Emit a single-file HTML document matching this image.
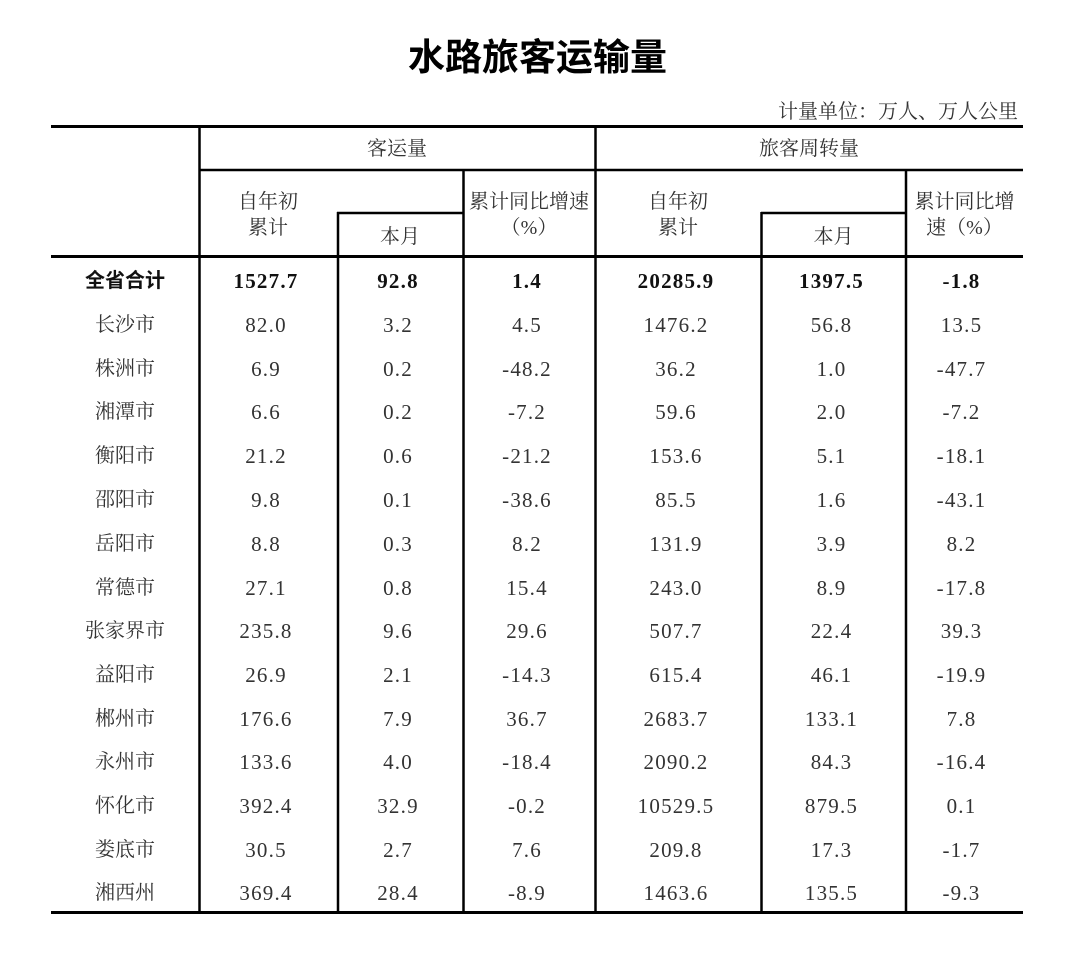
<!DOCTYPE html>
<html>
<head>
<meta charset="utf-8">
<style>
html,body{margin:0;padding:0;background:#fff;}
body{width:1080px;height:959px;position:relative;overflow:hidden;}
.t{position:absolute;white-space:nowrap;text-align:center;line-height:20px;height:20px;}
.cn{font-family:"Liberation Serif","Noto Serif CJK SC",serif;font-size:20px;color:#333;}
.num{font-family:"Liberation Serif","Noto Serif CJK SC",serif;font-size:21px;letter-spacing:1.2px;color:#333;}
.b{font-weight:bold;color:#111;}
.bs{font-family:"Liberation Sans","Noto Sans CJK SC",sans-serif;font-weight:bold;font-size:20px;color:#111;}
.title{position:absolute;left:380px;width:315px;top:38px;text-align:center;font-family:"Liberation Sans","Noto Sans CJK SC",sans-serif;font-weight:bold;font-size:37px;line-height:40px;color:#000;}
.unit{position:absolute;right:62px;top:102px;font-family:"Liberation Serif","Noto Serif CJK SC",serif;font-size:20px;line-height:20px;color:#333;}
svg{position:absolute;left:0;top:0;}
</style>
</head>
<body>
<div class="title">水路旅客运输量</div>
<div class="unit">计量单位：万人、万人公里</div>

<svg width="1080" height="959" xmlns="http://www.w3.org/2000/svg">
  <g stroke="#000" fill="none">
    <line x1="51" y1="126.5" x2="1023" y2="126.5" stroke-width="3"/>
    <line x1="199" y1="170" x2="1023" y2="170" stroke-width="2.5"/>
    <line x1="337" y1="213" x2="463" y2="213" stroke-width="2.5"/>
    <line x1="761" y1="213" x2="906" y2="213" stroke-width="2.5"/>
    <line x1="51" y1="256.5" x2="1023" y2="256.5" stroke-width="3"/>
    <line x1="51" y1="912.5" x2="1023" y2="912.5" stroke-width="3"/>
    <line x1="199.5" y1="126" x2="199.5" y2="913" stroke-width="2.5"/>
    <line x1="338" y1="212" x2="338" y2="913" stroke-width="2.5"/>
    <line x1="463.5" y1="170" x2="463.5" y2="913" stroke-width="2.5"/>
    <line x1="595.5" y1="126" x2="595.5" y2="913" stroke-width="2.5"/>
    <line x1="761.5" y1="212" x2="761.5" y2="913" stroke-width="2.5"/>
    <line x1="906" y1="170" x2="906" y2="913" stroke-width="2.5"/>
  </g>
</svg>

<!-- header -->
<div class="t cn" style="left:199px;width:396px;top:139px;">客运量</div>
<div class="t cn" style="left:595px;width:428px;top:139px;">旅客周转量</div>

<div class="t cn" style="left:199px;width:138px;top:192px;">自年初</div>
<div class="t cn" style="left:199px;width:138px;top:218px;">累计</div>
<div class="t cn" style="left:337px;width:126px;top:227px;">本月</div>
<div class="t cn" style="left:463px;width:132px;top:192px;">累计同比增速</div>
<div class="t cn" style="left:463px;width:132px;top:218px;">（%）</div>

<div class="t cn" style="left:595px;width:166px;top:192px;">自年初</div>
<div class="t cn" style="left:595px;width:166px;top:218px;">累计</div>
<div class="t cn" style="left:761px;width:145px;top:227px;">本月</div>
<div class="t cn" style="left:906px;width:117px;top:192px;">累计同比增</div>
<div class="t cn" style="left:906px;width:117px;top:218px;">速（%）</div>

<!-- rows -->
<div class="t bs" style="left:51px;width:148px;top:271px;">全省合计</div>
<div class="t num b" style="left:199px;width:134px;top:271px;">1527.7</div>
<div class="t num b" style="left:337px;width:122px;top:271px;">92.8</div>
<div class="t num b" style="left:463px;width:128px;top:271px;">1.4</div>
<div class="t num b" style="left:595px;width:162px;top:271px;">20285.9</div>
<div class="t num b" style="left:761px;width:141px;top:271px;">1397.5</div>
<div class="t num b" style="left:906px;width:111px;top:271px;">-1.8</div>

<div class="t cn" style="left:51px;width:148px;top:315px;">长沙市</div>
<div class="t num" style="left:199px;width:134px;top:315px;">82.0</div>
<div class="t num" style="left:337px;width:122px;top:315px;">3.2</div>
<div class="t num" style="left:463px;width:128px;top:315px;">4.5</div>
<div class="t num" style="left:595px;width:162px;top:315px;">1476.2</div>
<div class="t num" style="left:761px;width:141px;top:315px;">56.8</div>
<div class="t num" style="left:906px;width:111px;top:315px;">13.5</div>

<div class="t cn" style="left:51px;width:148px;top:359px;">株洲市</div>
<div class="t num" style="left:199px;width:134px;top:359px;">6.9</div>
<div class="t num" style="left:337px;width:122px;top:359px;">0.2</div>
<div class="t num" style="left:463px;width:128px;top:359px;">-48.2</div>
<div class="t num" style="left:595px;width:162px;top:359px;">36.2</div>
<div class="t num" style="left:761px;width:141px;top:359px;">1.0</div>
<div class="t num" style="left:906px;width:111px;top:359px;">-47.7</div>

<div class="t cn" style="left:51px;width:148px;top:402px;">湘潭市</div>
<div class="t num" style="left:199px;width:134px;top:402px;">6.6</div>
<div class="t num" style="left:337px;width:122px;top:402px;">0.2</div>
<div class="t num" style="left:463px;width:128px;top:402px;">-7.2</div>
<div class="t num" style="left:595px;width:162px;top:402px;">59.6</div>
<div class="t num" style="left:761px;width:141px;top:402px;">2.0</div>
<div class="t num" style="left:906px;width:111px;top:402px;">-7.2</div>

<div class="t cn" style="left:51px;width:148px;top:446px;">衡阳市</div>
<div class="t num" style="left:199px;width:134px;top:446px;">21.2</div>
<div class="t num" style="left:337px;width:122px;top:446px;">0.6</div>
<div class="t num" style="left:463px;width:128px;top:446px;">-21.2</div>
<div class="t num" style="left:595px;width:162px;top:446px;">153.6</div>
<div class="t num" style="left:761px;width:141px;top:446px;">5.1</div>
<div class="t num" style="left:906px;width:111px;top:446px;">-18.1</div>

<div class="t cn" style="left:51px;width:148px;top:490px;">邵阳市</div>
<div class="t num" style="left:199px;width:134px;top:490px;">9.8</div>
<div class="t num" style="left:337px;width:122px;top:490px;">0.1</div>
<div class="t num" style="left:463px;width:128px;top:490px;">-38.6</div>
<div class="t num" style="left:595px;width:162px;top:490px;">85.5</div>
<div class="t num" style="left:761px;width:141px;top:490px;">1.6</div>
<div class="t num" style="left:906px;width:111px;top:490px;">-43.1</div>

<div class="t cn" style="left:51px;width:148px;top:534px;">岳阳市</div>
<div class="t num" style="left:199px;width:134px;top:534px;">8.8</div>
<div class="t num" style="left:337px;width:122px;top:534px;">0.3</div>
<div class="t num" style="left:463px;width:128px;top:534px;">8.2</div>
<div class="t num" style="left:595px;width:162px;top:534px;">131.9</div>
<div class="t num" style="left:761px;width:141px;top:534px;">3.9</div>
<div class="t num" style="left:906px;width:111px;top:534px;">8.2</div>

<div class="t cn" style="left:51px;width:148px;top:578px;">常德市</div>
<div class="t num" style="left:199px;width:134px;top:578px;">27.1</div>
<div class="t num" style="left:337px;width:122px;top:578px;">0.8</div>
<div class="t num" style="left:463px;width:128px;top:578px;">15.4</div>
<div class="t num" style="left:595px;width:162px;top:578px;">243.0</div>
<div class="t num" style="left:761px;width:141px;top:578px;">8.9</div>
<div class="t num" style="left:906px;width:111px;top:578px;">-17.8</div>

<div class="t cn" style="left:51px;width:148px;top:621px;">张家界市</div>
<div class="t num" style="left:199px;width:134px;top:621px;">235.8</div>
<div class="t num" style="left:337px;width:122px;top:621px;">9.6</div>
<div class="t num" style="left:463px;width:128px;top:621px;">29.6</div>
<div class="t num" style="left:595px;width:162px;top:621px;">507.7</div>
<div class="t num" style="left:761px;width:141px;top:621px;">22.4</div>
<div class="t num" style="left:906px;width:111px;top:621px;">39.3</div>

<div class="t cn" style="left:51px;width:148px;top:665px;">益阳市</div>
<div class="t num" style="left:199px;width:134px;top:665px;">26.9</div>
<div class="t num" style="left:337px;width:122px;top:665px;">2.1</div>
<div class="t num" style="left:463px;width:128px;top:665px;">-14.3</div>
<div class="t num" style="left:595px;width:162px;top:665px;">615.4</div>
<div class="t num" style="left:761px;width:141px;top:665px;">46.1</div>
<div class="t num" style="left:906px;width:111px;top:665px;">-19.9</div>

<div class="t cn" style="left:51px;width:148px;top:709px;">郴州市</div>
<div class="t num" style="left:199px;width:134px;top:709px;">176.6</div>
<div class="t num" style="left:337px;width:122px;top:709px;">7.9</div>
<div class="t num" style="left:463px;width:128px;top:709px;">36.7</div>
<div class="t num" style="left:595px;width:162px;top:709px;">2683.7</div>
<div class="t num" style="left:761px;width:141px;top:709px;">133.1</div>
<div class="t num" style="left:906px;width:111px;top:709px;">7.8</div>

<div class="t cn" style="left:51px;width:148px;top:752px;">永州市</div>
<div class="t num" style="left:199px;width:134px;top:752px;">133.6</div>
<div class="t num" style="left:337px;width:122px;top:752px;">4.0</div>
<div class="t num" style="left:463px;width:128px;top:752px;">-18.4</div>
<div class="t num" style="left:595px;width:162px;top:752px;">2090.2</div>
<div class="t num" style="left:761px;width:141px;top:752px;">84.3</div>
<div class="t num" style="left:906px;width:111px;top:752px;">-16.4</div>

<div class="t cn" style="left:51px;width:148px;top:796px;">怀化市</div>
<div class="t num" style="left:199px;width:134px;top:796px;">392.4</div>
<div class="t num" style="left:337px;width:122px;top:796px;">32.9</div>
<div class="t num" style="left:463px;width:128px;top:796px;">-0.2</div>
<div class="t num" style="left:595px;width:162px;top:796px;">10529.5</div>
<div class="t num" style="left:761px;width:141px;top:796px;">879.5</div>
<div class="t num" style="left:906px;width:111px;top:796px;">0.1</div>

<div class="t cn" style="left:51px;width:148px;top:840px;">娄底市</div>
<div class="t num" style="left:199px;width:134px;top:840px;">30.5</div>
<div class="t num" style="left:337px;width:122px;top:840px;">2.7</div>
<div class="t num" style="left:463px;width:128px;top:840px;">7.6</div>
<div class="t num" style="left:595px;width:162px;top:840px;">209.8</div>
<div class="t num" style="left:761px;width:141px;top:840px;">17.3</div>
<div class="t num" style="left:906px;width:111px;top:840px;">-1.7</div>

<div class="t cn" style="left:51px;width:148px;top:883px;">湘西州</div>
<div class="t num" style="left:199px;width:134px;top:883px;">369.4</div>
<div class="t num" style="left:337px;width:122px;top:883px;">28.4</div>
<div class="t num" style="left:463px;width:128px;top:883px;">-8.9</div>
<div class="t num" style="left:595px;width:162px;top:883px;">1463.6</div>
<div class="t num" style="left:761px;width:141px;top:883px;">135.5</div>
<div class="t num" style="left:906px;width:111px;top:883px;">-9.3</div>

</body>
</html>
